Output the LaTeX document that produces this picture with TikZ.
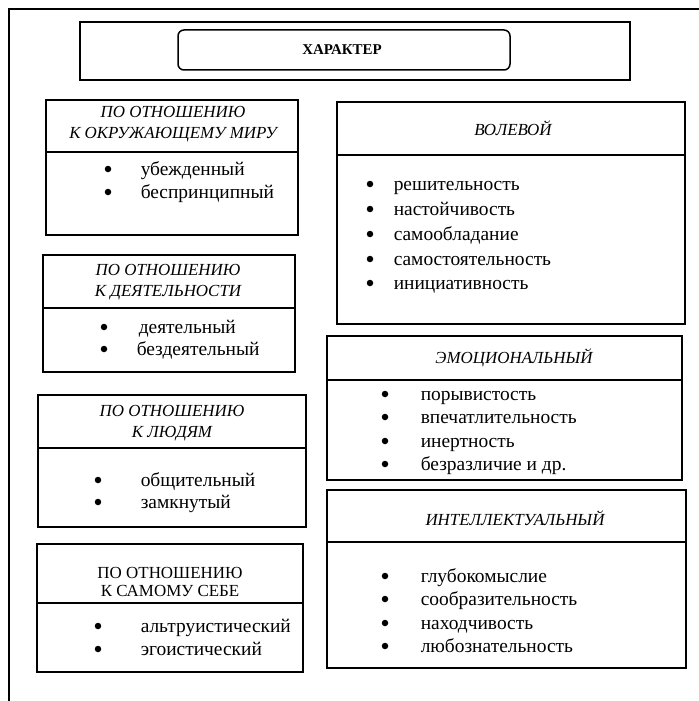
\documentclass[tikz,border=0pt]{standalone}
\usepackage{fontspec}
\setmainfont{Liberation Serif}
\usepackage{tikz}

\begin{document}
\begin{tikzpicture}[x=1bp,y=-1bp,line width=1.5bp]
\tikzset{
  head/.style={font=\fontsize{17}{21}\selectfont\itshape, align=center, inner sep=0pt},
  headup/.style={head, font=\fontsize{17}{19}\selectfont\upshape},
  item/.style={font=\fontsize{19.5}{22}\selectfont, anchor=base west, inner sep=0pt},
  dot/.style={circle, fill, inner sep=0pt, minimum size=6.5bp}
}
\useasboundingbox (0,0) rectangle (699,701);
\draw[line width=2.5bp] (9,701) -- (9,9) -- (699,9);
% title
\draw (80,22) rectangle (630,80);
\draw[rounded corners=6bp] (178,30) rectangle (510,70);
\node[font=\fontsize{15}{17}\selectfont\bfseries] (title) at (342,50) {ХАРАКТЕР};
% frames: left/top/right/bottom/separator
\foreach \l/\t/\r/\b/\s in {46/100/298/235/152, 337/102/685/324/155,
  43/255/295/372/308, 327/336/682/480/380, 38/395/306/527/448,
  327/490/686/668/542, 37/544/303/672/603}
  \draw (\l,\t) rectangle (\r,\b) (\l,\s) -- (\r,\s);
% headers
\node[head] (okr) at (173,124) {ПО ОТНОШЕНИЮ\\К ОКРУЖАЮЩЕМУ МИРУ};
\node[head] (vol) at (513,128) {ВОЛЕВОЙ};
\node[head] (deyat) at (168,282) {ПО ОТНОШЕНИЮ\\К ДЕЯТЕЛЬНОСТИ};
\node[head] (emo) at (514,358) {ЭМОЦИОНАЛЬНЫЙ};
\node[head] (lyudi) at (172,423) {ПО ОТНОШЕНИЮ\\К ЛЮДЯМ};
\node[head] (intel) at (515,518) {ИНТЕЛЛЕКТУАЛЬНЫЙ};
\node[headup] (sebe) at (170,582) {ПО ОТНОШЕНИЮ\\К САМОМУ СЕБЕ};
% items (y is the baseline)
\foreach \bx/\tx/\y/\lab [count=\i] in {
  108/140/175/убежденный, 108/140/198/беспринципный,
  370/393/190/решительность, 370/393/215/настойчивость,
  370/393/240/самообладание, 370/393/265/самостоятельность,
  370/393/289/инициативность,
  104/138/333/деятельный, 104/136/355/бездеятельный,
  385/420/400/порывистость, 385/420/423/впечатлительность,
  385/420/447/инертность, 385/420/470/безразличие и др.,
  98/140/486/общительный, 98/140/508/замкнутый,
  385/420/582/глубокомыслие, 385/420/605/сообразительность,
  385/420/629/находчивость, 385/420/652/любознательность,
  98/140/632/альтруистический, 98/140/655/эгоистический} {
  \node[dot] (b\i) at (\bx,\y-6) {};
  \node[item] (t\i) at (\tx,\y) {\lab};
}
\end{tikzpicture}
\end{document}
